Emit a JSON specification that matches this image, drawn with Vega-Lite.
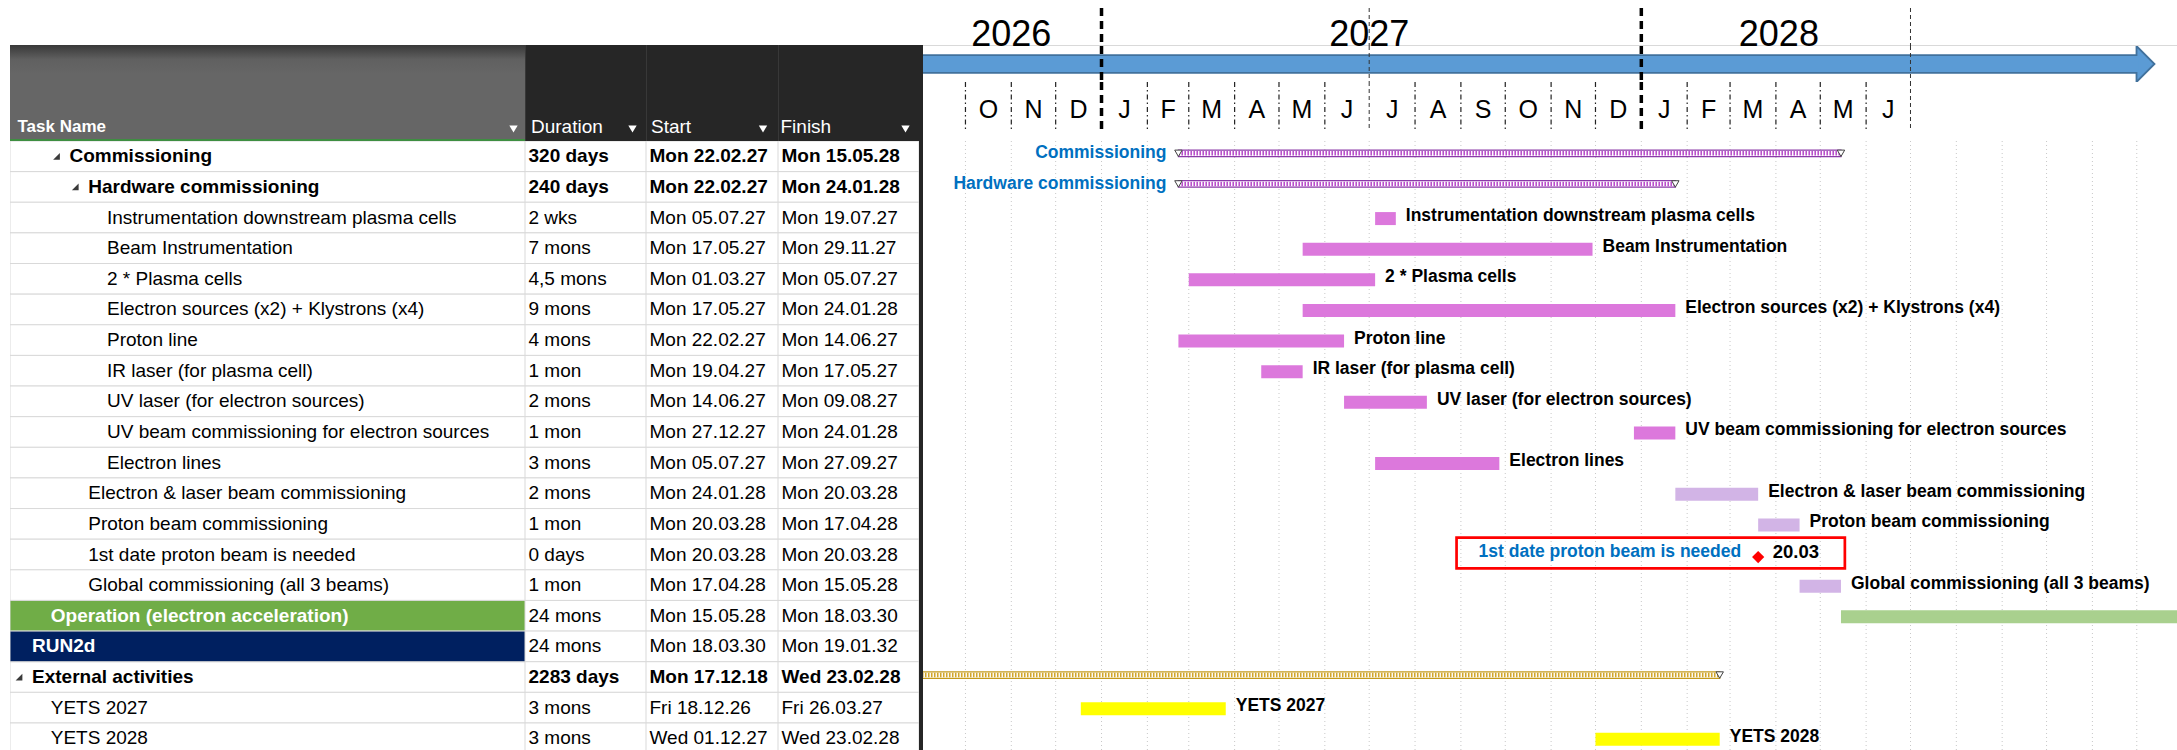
{
"$schema":"https://vega.github.io/schema/vega-lite/v6.json",
"padding":{"left":10,"top":0,"right":0,"bottom":0},
"background":"#ffffff",
"spacing":0,
"config":{"view":{"stroke":null},"font":"Liberation Sans","concat":{"spacing":0}},
"datasets":{
"tasks":[
{"id":1,"name":"Commissioning","level":2,"kind":"summary","duration":"320 days","start":"2027-02-22T00:00:00","finish":"2028-05-15T00:00:00"},
{"id":2,"name":"Hardware commissioning","level":3,"kind":"summary","duration":"240 days","start":"2027-02-22T00:00:00","finish":"2028-01-24T00:00:00"},
{"id":3,"name":"Instrumentation downstream plasma cells","level":4,"kind":"task","duration":"2 wks","start":"2027-07-05T00:00:00","finish":"2027-07-19T00:00:00"},
{"id":4,"name":"Beam Instrumentation","level":4,"kind":"task","duration":"7 mons","start":"2027-05-17T00:00:00","finish":"2027-11-29T00:00:00"},
{"id":5,"name":"2 * Plasma cells","level":4,"kind":"task","duration":"4,5 mons","start":"2027-03-01T00:00:00","finish":"2027-07-05T00:00:00"},
{"id":6,"name":"Electron sources (x2) + Klystrons (x4)","level":4,"kind":"task","duration":"9 mons","start":"2027-05-17T00:00:00","finish":"2028-01-24T00:00:00"},
{"id":7,"name":"Proton line","level":4,"kind":"task","duration":"4 mons","start":"2027-02-22T00:00:00","finish":"2027-06-14T00:00:00"},
{"id":8,"name":"IR laser (for plasma cell)","level":4,"kind":"task","duration":"1 mon","start":"2027-04-19T00:00:00","finish":"2027-05-17T00:00:00"},
{"id":9,"name":"UV laser (for electron sources)","level":4,"kind":"task","duration":"2 mons","start":"2027-06-14T00:00:00","finish":"2027-08-09T00:00:00"},
{"id":10,"name":"UV beam commissioning for electron sources","level":4,"kind":"task","duration":"1 mon","start":"2027-12-27T00:00:00","finish":"2028-01-24T00:00:00"},
{"id":11,"name":"Electron lines","level":4,"kind":"task","duration":"3 mons","start":"2027-07-05T00:00:00","finish":"2027-09-27T00:00:00"},
{"id":12,"name":"Electron & laser beam commissioning","level":3,"kind":"beam","duration":"2 mons","start":"2028-01-24T00:00:00","finish":"2028-03-20T00:00:00"},
{"id":13,"name":"Proton beam commissioning","level":3,"kind":"beam","duration":"1 mon","start":"2028-03-20T00:00:00","finish":"2028-04-17T00:00:00"},
{"id":14,"name":"1st date proton beam is needed","level":3,"kind":"milestone","duration":"0 days","start":"2028-03-20T00:00:00","finish":"2028-03-20T00:00:00"},
{"id":15,"name":"Global commissioning (all 3 beams)","level":3,"kind":"beam","duration":"1 mon","start":"2028-04-17T00:00:00","finish":"2028-05-15T00:00:00"},
{"id":16,"name":"Operation (electron acceleration)","level":1,"kind":"operation","duration":"24 mons","start":"2028-05-15T00:00:00","finish":"2030-03-18T00:00:00"},
{"id":17,"name":"RUN2d","level":0,"kind":"run","duration":"24 mons","start":"2030-03-18T00:00:00","finish":"2032-01-19T00:00:00"},
{"id":18,"name":"External activities","level":0,"kind":"external","duration":"2283 days","start":"2018-12-17T00:00:00","finish":"2028-02-23T00:00:00"},
{"id":19,"name":"YETS 2027","level":1,"kind":"yets","duration":"3 mons","start":"2026-12-18T00:00:00","finish":"2027-03-26T00:00:00"},
{"id":20,"name":"YETS 2028","level":1,"kind":"yets","duration":"3 mons","start":"2027-12-01T00:00:00","finish":"2028-02-23T00:00:00"}
],
"months":[
{"m":"2026-10-01T00:00:00","letter":"O"},{"m":"2026-11-01T00:00:00","letter":"N"},{"m":"2026-12-01T00:00:00","letter":"D"},
{"m":"2027-01-01T00:00:00","letter":"J"},{"m":"2027-02-01T00:00:00","letter":"F"},{"m":"2027-03-01T00:00:00","letter":"M"},
{"m":"2027-04-01T00:00:00","letter":"A"},{"m":"2027-05-01T00:00:00","letter":"M"},{"m":"2027-06-01T00:00:00","letter":"J"},
{"m":"2027-07-01T00:00:00","letter":"J"},{"m":"2027-08-01T00:00:00","letter":"A"},{"m":"2027-09-01T00:00:00","letter":"S"},
{"m":"2027-10-01T00:00:00","letter":"O"},{"m":"2027-11-01T00:00:00","letter":"N"},{"m":"2027-12-01T00:00:00","letter":"D"},
{"m":"2028-01-01T00:00:00","letter":"J"},{"m":"2028-02-01T00:00:00","letter":"F"},{"m":"2028-03-01T00:00:00","letter":"M"},
{"m":"2028-04-01T00:00:00","letter":"A"},{"m":"2028-05-01T00:00:00","letter":"M"},{"m":"2028-06-01T00:00:00","letter":"J"},
{"m":"2028-07-01T00:00:00","letter":"J"},{"m":"2028-08-01T00:00:00","letter":"A"},{"m":"2028-09-01T00:00:00","letter":"S"},
{"m":"2028-10-01T00:00:00","letter":"O"},{"m":"2028-11-01T00:00:00","letter":"N"},{"m":"2028-12-01T00:00:00","letter":"D"}
],
"years":[{"year":"2026","at":"2026-11-01T00:00:00"},{"year":"2027","at":"2027-07-01T00:00:00"},{"year":"2028","at":"2028-04-03T00:00:00"}],
"arrow":[{"from":"2026-08-01T00:00:00","base":"2028-12-01T00:00:00","tip":"2028-12-13T00:00:00"}]
},
"hconcat":[
{"spacing":0,"vconcat":[
 {"width":913,"height":45,"data":{"values":[{"t":""}]},"mark":{"type":"text","clip":true},"encoding":{"text":{"field":"t"}}},
 {"spacing":0,"bounds":"flush","hconcat":[
  {"width":515,"height":96,"view":{"stroke":null,"fill":{"gradient":"linear","x1":0,"y1":0,"x2":0,"y2":1,"stops":[{"offset":0,"color":"#383838"},{"offset":0.15,"color":"#606060"},{"offset":0.3,"color":"#666666"},{"offset":0.975,"color":"#666666"},{"offset":0.976,"color":"#3E8E41"},{"offset":1,"color":"#3E8E41"}]}},
   "data":{"values":[{"label":"Task Name"}]},
   "layer":[
    {"mark":{"type":"text","align":"left","baseline":"middle","dx":-250,"dy":33.7,"fontSize":17,"fontWeight":"bold","color":"#ffffff","clip":true},"encoding":{"text":{"field":"label"}}},
    {"mark":{"type":"point","shape":"triangle-down","size":70,"filled":true,"color":"#ffffff","opacity":1,"xOffset":246,"yOffset":36,"clip":true},"encoding":{}}
   ]},
  {"width":121,"height":96,"view":{"fill":"#262626","stroke":null},
   "data":{"values":[{"label":"Duration"}]},
   "layer":[
    {"mark":{"type":"rule","color":"#4a4a4a","strokeWidth":1,"clip":true},"encoding":{"x":{"datum":0,"type":"quantitative","scale":{"domain":[0,1]},"axis":null}}},
    {"mark":{"type":"text","align":"left","baseline":"middle","dx":-54.5,"dy":33.7,"fontSize":19,"color":"#ffffff","clip":true},"encoding":{"text":{"field":"label"}}},
    {"mark":{"type":"point","shape":"triangle-down","size":70,"filled":true,"color":"#ffffff","opacity":1,"xOffset":47,"yOffset":36,"clip":true},"encoding":{}}
   ]},
  {"width":132,"height":96,"view":{"fill":"#262626","stroke":null},
   "data":{"values":[{"label":"Start"}]},
   "layer":[
    {"mark":{"type":"rule","color":"#4a4a4a","strokeWidth":1,"clip":true},"encoding":{"x":{"datum":0,"type":"quantitative","scale":{"domain":[0,1]},"axis":null}}},
    {"mark":{"type":"text","align":"left","baseline":"middle","dx":-61,"dy":33.7,"fontSize":19,"color":"#ffffff","clip":true},"encoding":{"text":{"field":"label"}}},
    {"mark":{"type":"point","shape":"triangle-down","size":70,"filled":true,"color":"#ffffff","opacity":1,"xOffset":51,"yOffset":36,"clip":true},"encoding":{}}
   ]},
  {"width":141,"height":96,"view":{"fill":"#262626","stroke":null},
   "data":{"values":[{"label":"Finish"}]},
   "layer":[
    {"mark":{"type":"rule","color":"#4a4a4a","strokeWidth":1,"clip":true},"encoding":{"x":{"datum":0,"type":"quantitative","scale":{"domain":[0,1]},"axis":null}}},
    {"mark":{"type":"text","align":"left","baseline":"middle","dx":-68,"dy":33.7,"fontSize":19,"color":"#ffffff","clip":true},"encoding":{"text":{"field":"label"}}},
    {"mark":{"type":"point","shape":"triangle-down","size":70,"filled":true,"color":"#ffffff","opacity":1,"xOffset":57,"yOffset":36,"clip":true},"encoding":{}}
   ]},
  {"width":4,"height":96,"view":{"fill":"#262626","stroke":null},"data":{"values":[{"t":""}]},"mark":{"type":"text","clip":true},"encoding":{"text":{"field":"t"}}}
 ]},
 {"spacing":0,"bounds":"flush","hconcat":[
  {"width":515,"height":609,"data":{"name":"tasks"},
   "layer":[
    {"mark":{"type":"rect","fill":"#ffffff","stroke":"#d9d9d9","strokeWidth":1,"clip":true},
     "encoding":{"y":{"field":"id","type":"ordinal","scale":{"domain":[1,2,3,4,5,6,7,8,9,10,11,12,13,14,15,16,17,18,19,20],"range":[0,612.6],"paddingInner":0,"paddingOuter":0},"axis":null}}},
    {"transform":[{"filter":"datum.kind=='operation'"}],"mark":{"type":"rect","fill":"#70AD47","stroke":"#d9d9d9","strokeWidth":1,"clip":true},
     "encoding":{"y":{"field":"id","type":"ordinal","scale":{"domain":[1,2,3,4,5,6,7,8,9,10,11,12,13,14,15,16,17,18,19,20],"range":[0,612.6],"paddingInner":0,"paddingOuter":0},"axis":null}}},
    {"transform":[{"filter":"datum.kind=='run'"}],"mark":{"type":"rect","fill":"#002060","stroke":"#d9d9d9","strokeWidth":1,"clip":true},
     "encoding":{"y":{"field":"id","type":"ordinal","scale":{"domain":[1,2,3,4,5,6,7,8,9,10,11,12,13,14,15,16,17,18,19,20],"range":[0,612.6],"paddingInner":0,"paddingOuter":0},"axis":null}}},
    {"transform":[{"filter":"datum.kind=='summary'||datum.kind=='external'"}],"mark":{"type":"point","shape":"M1,-1L1,1L-1,1Z","size":45,"filled":true,"color":"#3a3a3a","opacity":1,"xOffset":-13,"clip":true},
     "encoding":{"x":{"field":"level","type":"quantitative","scale":{"domain":[0,4],"range":[22,97]},"axis":null},
      "y":{"field":"id","type":"ordinal","scale":{"domain":[1,2,3,4,5,6,7,8,9,10,11,12,13,14,15,16,17,18,19,20],"range":[0,612.6],"paddingInner":0,"paddingOuter":0},"axis":null}}},
    {"transform":[{"filter":"indexof(['task','beam','milestone','yets'],datum.kind)>=0"}],"mark":{"type":"text","align":"left","baseline":"middle","fontSize":19,"color":"#000000","clip":true},
     "encoding":{"x":{"field":"level","type":"quantitative","scale":{"domain":[0,4],"range":[22,97]},"axis":null},
      "y":{"field":"id","type":"ordinal","scale":{"domain":[1,2,3,4,5,6,7,8,9,10,11,12,13,14,15,16,17,18,19,20],"range":[0,612.6],"paddingInner":0,"paddingOuter":0},"axis":null},
      "text":{"field":"name"}}},
    {"transform":[{"filter":"datum.kind=='summary'||datum.kind=='external'"}],"mark":{"type":"text","align":"left","baseline":"middle","fontSize":19,"fontWeight":"bold","color":"#000000","clip":true},
     "encoding":{"x":{"field":"level","type":"quantitative","scale":{"domain":[0,4],"range":[22,97]},"axis":null},
      "y":{"field":"id","type":"ordinal","scale":{"domain":[1,2,3,4,5,6,7,8,9,10,11,12,13,14,15,16,17,18,19,20],"range":[0,612.6],"paddingInner":0,"paddingOuter":0},"axis":null},
      "text":{"field":"name"}}},
    {"transform":[{"filter":"datum.kind=='operation'||datum.kind=='run'"}],"mark":{"type":"text","align":"left","baseline":"middle","fontSize":19,"fontWeight":"bold","color":"#ffffff","clip":true},
     "encoding":{"x":{"field":"level","type":"quantitative","scale":{"domain":[0,4],"range":[22,97]},"axis":null},
      "y":{"field":"id","type":"ordinal","scale":{"domain":[1,2,3,4,5,6,7,8,9,10,11,12,13,14,15,16,17,18,19,20],"range":[0,612.6],"paddingInner":0,"paddingOuter":0},"axis":null},
      "text":{"field":"name"}}}
   ]},
  {"width":121,"height":609,"data":{"name":"tasks"},
   "layer":[
    {"mark":{"type":"rect","fill":"#ffffff","stroke":"#d9d9d9","strokeWidth":1,"clip":true},
     "encoding":{"y":{"field":"id","type":"ordinal","scale":{"domain":[1,2,3,4,5,6,7,8,9,10,11,12,13,14,15,16,17,18,19,20],"range":[0,612.6],"paddingInner":0,"paddingOuter":0},"axis":null}}},
    {"transform":[{"filter":"datum.kind!='summary'&&datum.kind!='external'"}],"mark":{"type":"text","align":"left","baseline":"middle","fontSize":19,"dx":-57,"color":"#000000","clip":true},
     "encoding":{"y":{"field":"id","type":"ordinal","scale":{"domain":[1,2,3,4,5,6,7,8,9,10,11,12,13,14,15,16,17,18,19,20],"range":[0,612.6],"paddingInner":0,"paddingOuter":0},"axis":null},"text":{"field":"duration"}}},
    {"transform":[{"filter":"datum.kind=='summary'||datum.kind=='external'"}],"mark":{"type":"text","align":"left","baseline":"middle","fontSize":19,"fontWeight":"bold","dx":-57,"color":"#000000","clip":true},
     "encoding":{"y":{"field":"id","type":"ordinal","scale":{"domain":[1,2,3,4,5,6,7,8,9,10,11,12,13,14,15,16,17,18,19,20],"range":[0,612.6],"paddingInner":0,"paddingOuter":0},"axis":null},"text":{"field":"duration"}}}
   ]},
  {"width":132,"height":609,"data":{"name":"tasks"},
   "layer":[
    {"mark":{"type":"rect","fill":"#ffffff","stroke":"#d9d9d9","strokeWidth":1,"clip":true},
     "encoding":{"y":{"field":"id","type":"ordinal","scale":{"domain":[1,2,3,4,5,6,7,8,9,10,11,12,13,14,15,16,17,18,19,20],"range":[0,612.6],"paddingInner":0,"paddingOuter":0},"axis":null}}},
    {"transform":[{"filter":"datum.kind!='summary'&&datum.kind!='external'"}],"mark":{"type":"text","align":"left","baseline":"middle","fontSize":19,"dx":-62.5,"color":"#000000","clip":true},
     "encoding":{"y":{"field":"id","type":"ordinal","scale":{"domain":[1,2,3,4,5,6,7,8,9,10,11,12,13,14,15,16,17,18,19,20],"range":[0,612.6],"paddingInner":0,"paddingOuter":0},"axis":null},"text":{"field":"start","type":"temporal","format":"%a %d.%m.%y"}}},
    {"transform":[{"filter":"datum.kind=='summary'||datum.kind=='external'"}],"mark":{"type":"text","align":"left","baseline":"middle","fontSize":19,"fontWeight":"bold","dx":-62.5,"color":"#000000","clip":true},
     "encoding":{"y":{"field":"id","type":"ordinal","scale":{"domain":[1,2,3,4,5,6,7,8,9,10,11,12,13,14,15,16,17,18,19,20],"range":[0,612.6],"paddingInner":0,"paddingOuter":0},"axis":null},"text":{"field":"start","type":"temporal","format":"%a %d.%m.%y"}}}
   ]},
  {"width":141,"height":609,"data":{"name":"tasks"},
   "layer":[
    {"mark":{"type":"rect","fill":"#ffffff","stroke":"#d9d9d9","strokeWidth":1,"clip":true},
     "encoding":{"y":{"field":"id","type":"ordinal","scale":{"domain":[1,2,3,4,5,6,7,8,9,10,11,12,13,14,15,16,17,18,19,20],"range":[0,612.6],"paddingInner":0,"paddingOuter":0},"axis":null}}},
    {"transform":[{"filter":"datum.kind!='summary'&&datum.kind!='external'"}],"mark":{"type":"text","align":"left","baseline":"middle","fontSize":19,"dx":-67,"color":"#000000","clip":true},
     "encoding":{"y":{"field":"id","type":"ordinal","scale":{"domain":[1,2,3,4,5,6,7,8,9,10,11,12,13,14,15,16,17,18,19,20],"range":[0,612.6],"paddingInner":0,"paddingOuter":0},"axis":null},"text":{"field":"finish","type":"temporal","format":"%a %d.%m.%y"}}},
    {"transform":[{"filter":"datum.kind=='summary'||datum.kind=='external'"}],"mark":{"type":"text","align":"left","baseline":"middle","fontSize":19,"fontWeight":"bold","dx":-67,"color":"#000000","clip":true},
     "encoding":{"y":{"field":"id","type":"ordinal","scale":{"domain":[1,2,3,4,5,6,7,8,9,10,11,12,13,14,15,16,17,18,19,20],"range":[0,612.6],"paddingInner":0,"paddingOuter":0},"axis":null},"text":{"field":"finish","type":"temporal","format":"%a %d.%m.%y"}}}
   ]},
  {"width":4,"height":609,"view":{"fill":"#262626","stroke":null},"data":{"values":[{"t":""}]},"mark":{"type":"text","clip":true},"encoding":{"text":{"field":"t"}}}
 ]}
]},
{"spacing":0,"bounds":"flush","vconcat":[
 {"width":1254,"height":46,"view":{"stroke":null,"fill":{"gradient":"linear","x1":0,"y1":0,"x2":0,"y2":1,"stops":[{"offset":0,"color":"#ffffff"},{"offset":0.975,"color":"#ffffff"},{"offset":0.976,"color":"#d9d9d9"},{"offset":1,"color":"#d9d9d9"}]}},
  "layer":[
   {"data":{"name":"years"},"mark":{"type":"text","align":"center","baseline":"alphabetic","dy":23,"fontSize":36,"color":"#000000","clip":true},
    "encoding":{"x":{"field":"at","type":"temporal","scale":{"domain":[{"year":2026,"month":9,"date":2,"hours":7},{"year":2028,"month":12,"date":28,"hours":5}]},"axis":null},"text":{"field":"year"}}},
   {"data":{"name":"months"},"transform":[{"filter":"month(datum.m)==0"}],"mark":{"type":"rule","color":"#000000","strokeWidth":3.5,"strokeDash":[8,5],"yOffset":8,"clip":true},
    "encoding":{"x":{"field":"m","type":"temporal","scale":{"domain":[{"year":2026,"month":9,"date":2,"hours":7},{"year":2028,"month":12,"date":28,"hours":5}]},"axis":null}}},
   {"data":{"name":"months"},"transform":[{"filter":"month(datum.m)==6"}],"mark":{"type":"rule","color":"#333333","strokeWidth":1,"strokeDash":[4,3],"yOffset":8,"clip":true},
    "encoding":{"x":{"field":"m","type":"temporal","scale":{"domain":[{"year":2026,"month":9,"date":2,"hours":7},{"year":2028,"month":12,"date":28,"hours":5}]},"axis":null}}}
  ]},
 {"width":1254,"height":36,
  "layer":[
   {"data":{"name":"arrow"},"mark":{"type":"rule","color":"#41719C","strokeWidth":19.5,"strokeCap":"butt","clip":true},
    "encoding":{"x":{"field":"from","type":"temporal","scale":{"domain":[{"year":2026,"month":9,"date":2,"hours":7},{"year":2028,"month":12,"date":28,"hours":5}]},"axis":null},"x2":{"field":"base"}}},
   {"data":{"name":"arrow"},"mark":{"type":"point","shape":"M-1,-1L0,0L-1,1Z","size":1296,"filled":true,"fill":"#5B9BD5","stroke":"#41719C","strokeWidth":1.8,"opacity":1,"clip":true},
    "encoding":{"x":{"field":"tip","type":"temporal","scale":{"domain":[{"year":2026,"month":9,"date":2,"hours":7},{"year":2028,"month":12,"date":28,"hours":5}]},"axis":null}}},
   {"data":{"name":"arrow"},"mark":{"type":"rule","color":"#5B9BD5","strokeWidth":16,"strokeCap":"butt","clip":true,"x2Offset":2},
    "encoding":{"x":{"field":"from","type":"temporal","scale":{"domain":[{"year":2026,"month":9,"date":2,"hours":7},{"year":2028,"month":12,"date":28,"hours":5}]},"axis":null},"x2":{"field":"base"}}},
   {"data":{"name":"months"},"transform":[{"filter":"month(datum.m)==0"}],"mark":{"type":"rule","color":"#000000","strokeWidth":3.5,"strokeDash":[8,5],"clip":true},
    "encoding":{"x":{"field":"m","type":"temporal","scale":{"domain":[{"year":2026,"month":9,"date":2,"hours":7},{"year":2028,"month":12,"date":28,"hours":5}]},"axis":null}}},
   {"data":{"name":"months"},"transform":[{"filter":"month(datum.m)==6"}],"mark":{"type":"rule","color":"#333333","strokeWidth":1,"strokeDash":[4,3],"clip":true},
    "encoding":{"x":{"field":"m","type":"temporal","scale":{"domain":[{"year":2026,"month":9,"date":2,"hours":7},{"year":2028,"month":12,"date":28,"hours":5}]},"axis":null}}}
  ]},
 {"width":1254,"height":49,
  "layer":[
   {"data":{"name":"months"},"transform":[{"filter":"month(datum.m)!=0 && month(datum.m)!=6 && time(datum.m) < time(datetime(2028,6,1))"}],"mark":{"type":"rule","color":"#222222","strokeWidth":1.2,"strokeDash":[5,3,1.5,3],"clip":true},
    "encoding":{"x":{"field":"m","type":"temporal","scale":{"domain":[{"year":2026,"month":9,"date":2,"hours":7},{"year":2028,"month":12,"date":28,"hours":5}]},"axis":null}}},
   {"data":{"name":"months"},"transform":[{"filter":"month(datum.m)==0"}],"mark":{"type":"rule","color":"#000000","strokeWidth":3.5,"strokeDash":[8,5],"clip":true},
    "encoding":{"x":{"field":"m","type":"temporal","scale":{"domain":[{"year":2026,"month":9,"date":2,"hours":7},{"year":2028,"month":12,"date":28,"hours":5}]},"axis":null}}},
   {"data":{"name":"months"},"transform":[{"filter":"month(datum.m)==6"}],"mark":{"type":"rule","color":"#333333","strokeWidth":1,"strokeDash":[4,3],"clip":true},
    "encoding":{"x":{"field":"m","type":"temporal","scale":{"domain":[{"year":2026,"month":9,"date":2,"hours":7},{"year":2028,"month":12,"date":28,"hours":5}]},"axis":null}}},
   {"data":{"name":"months"},"transform":[{"filter":"time(datum.m) < time(datetime(2028,6,1))"}],"mark":{"type":"text","align":"center","baseline":"alphabetic","dy":11.5,"fontSize":25,"color":"#000000","clip":true},
    "encoding":{"x":{"field":"m","type":"temporal","timeUnit":"yearmonth","bandPosition":0.5,"scale":{"domain":[{"year":2026,"month":9,"date":2,"hours":7},{"year":2028,"month":12,"date":28,"hours":5}]},"axis":null},"text":{"field":"letter"}}}
  ]},
 {"width":1254,"height":10,"data":{"values":[{"t":""}]},"mark":{"type":"text","clip":true},"encoding":{"text":{"field":"t"}}},
 {"width":1254,"height":609,"data":{"name":"tasks"},
  "layer":[
   {"data":{"name":"months"},"mark":{"type":"rule","color":"#c8c8c8","strokeWidth":1,"strokeDash":[1,3],"clip":true},
    "encoding":{"x":{"field":"m","type":"temporal","scale":{"domain":[{"year":2026,"month":9,"date":2,"hours":7},{"year":2028,"month":12,"date":28,"hours":5}]},"axis":null}}},
   {"transform":[{"filter":"datum.kind=='summary'"}],"mark":{"type":"bar","height":6.5,"yOffset":-3,"fill":"#ffffff","stroke":"#8B3BA8","strokeWidth":1.2,"clip":true},
    "encoding":{"x":{"field":"start","type":"temporal","scale":{"domain":[{"year":2026,"month":9,"date":2,"hours":7},{"year":2028,"month":12,"date":28,"hours":5}]},"axis":null},"x2":{"field":"finish"},
     "y":{"field":"id","type":"ordinal","scale":{"domain":[1,2,3,4,5,6,7,8,9,10,11,12,13,14,15,16,17,18,19,20],"range":[0,612.6],"paddingInner":0,"paddingOuter":0},"axis":null}}},
   {"transform":[{"filter":"datum.kind=='summary'"}],"mark":{"type":"rule","strokeWidth":4.5,"strokeDash":[1.6,1.4],"strokeCap":"butt","color":"#B94FCB","yOffset":-3,"clip":true},
    "encoding":{"x":{"field":"start","type":"temporal","scale":{"domain":[{"year":2026,"month":9,"date":2,"hours":7},{"year":2028,"month":12,"date":28,"hours":5}]},"axis":null},"x2":{"field":"finish"},
     "y":{"field":"id","type":"ordinal","scale":{"domain":[1,2,3,4,5,6,7,8,9,10,11,12,13,14,15,16,17,18,19,20],"range":[0,612.6],"paddingInner":0,"paddingOuter":0},"axis":null}}},
   {"transform":[{"filter":"datum.kind=='summary'"}],"mark":{"type":"point","shape":"triangle-down","size":55,"fill":"#ffffff","stroke":"#404040","strokeWidth":1,"opacity":1,"filled":false,"yOffset":-3,"clip":true},
    "encoding":{"x":{"field":"start","type":"temporal","scale":{"domain":[{"year":2026,"month":9,"date":2,"hours":7},{"year":2028,"month":12,"date":28,"hours":5}]},"axis":null},
     "y":{"field":"id","type":"ordinal","scale":{"domain":[1,2,3,4,5,6,7,8,9,10,11,12,13,14,15,16,17,18,19,20],"range":[0,612.6],"paddingInner":0,"paddingOuter":0},"axis":null}}},
   {"transform":[{"filter":"datum.kind=='summary'"}],"mark":{"type":"point","shape":"triangle-down","size":55,"fill":"#ffffff","stroke":"#404040","strokeWidth":1,"opacity":1,"filled":false,"yOffset":-3,"clip":true},
    "encoding":{"x":{"field":"finish","type":"temporal","scale":{"domain":[{"year":2026,"month":9,"date":2,"hours":7},{"year":2028,"month":12,"date":28,"hours":5}]},"axis":null},
     "y":{"field":"id","type":"ordinal","scale":{"domain":[1,2,3,4,5,6,7,8,9,10,11,12,13,14,15,16,17,18,19,20],"range":[0,612.6],"paddingInner":0,"paddingOuter":0},"axis":null}}},
   {"transform":[{"filter":"datum.kind=='external'"}],"mark":{"type":"bar","height":6.5,"yOffset":-2,"fill":"#ffffff","stroke":"#C39A1C","strokeWidth":1.2,"clip":true},
    "encoding":{"x":{"field":"start","type":"temporal","scale":{"domain":[{"year":2026,"month":9,"date":2,"hours":7},{"year":2028,"month":12,"date":28,"hours":5}]},"axis":null},"x2":{"field":"finish"},
     "y":{"field":"id","type":"ordinal","scale":{"domain":[1,2,3,4,5,6,7,8,9,10,11,12,13,14,15,16,17,18,19,20],"range":[0,612.6],"paddingInner":0,"paddingOuter":0},"axis":null}}},
   {"transform":[{"filter":"datum.kind=='external'"}],"mark":{"type":"rule","strokeWidth":4.5,"strokeDash":[1.6,1.4],"strokeCap":"butt","color":"#D2A62A","yOffset":-2,"clip":true},
    "encoding":{"x":{"field":"start","type":"temporal","scale":{"domain":[{"year":2026,"month":9,"date":2,"hours":7},{"year":2028,"month":12,"date":28,"hours":5}]},"axis":null},"x2":{"field":"finish"},
     "y":{"field":"id","type":"ordinal","scale":{"domain":[1,2,3,4,5,6,7,8,9,10,11,12,13,14,15,16,17,18,19,20],"range":[0,612.6],"paddingInner":0,"paddingOuter":0},"axis":null}}},
   {"transform":[{"filter":"datum.kind=='external'"}],"mark":{"type":"point","shape":"triangle-down","size":55,"fill":"#ffffff","stroke":"#404040","strokeWidth":1,"opacity":1,"filled":false,"yOffset":-2,"clip":true},
    "encoding":{"x":{"field":"finish","type":"temporal","scale":{"domain":[{"year":2026,"month":9,"date":2,"hours":7},{"year":2028,"month":12,"date":28,"hours":5}]},"axis":null},
     "y":{"field":"id","type":"ordinal","scale":{"domain":[1,2,3,4,5,6,7,8,9,10,11,12,13,14,15,16,17,18,19,20],"range":[0,612.6],"paddingInner":0,"paddingOuter":0},"axis":null}}},
   {"transform":[{"filter":"datum.kind=='task'"}],"mark":{"type":"bar","height":13,"yOffset":1,"color":"#DC78DC","clip":true},
    "encoding":{"x":{"field":"start","type":"temporal","scale":{"domain":[{"year":2026,"month":9,"date":2,"hours":7},{"year":2028,"month":12,"date":28,"hours":5}]},"axis":null},"x2":{"field":"finish"},
     "y":{"field":"id","type":"ordinal","scale":{"domain":[1,2,3,4,5,6,7,8,9,10,11,12,13,14,15,16,17,18,19,20],"range":[0,612.6],"paddingInner":0,"paddingOuter":0},"axis":null}}},
   {"transform":[{"filter":"datum.kind=='beam'"}],"mark":{"type":"bar","height":13,"yOffset":1,"color":"#D2B4E6","clip":true},
    "encoding":{"x":{"field":"start","type":"temporal","scale":{"domain":[{"year":2026,"month":9,"date":2,"hours":7},{"year":2028,"month":12,"date":28,"hours":5}]},"axis":null},"x2":{"field":"finish"},
     "y":{"field":"id","type":"ordinal","scale":{"domain":[1,2,3,4,5,6,7,8,9,10,11,12,13,14,15,16,17,18,19,20],"range":[0,612.6],"paddingInner":0,"paddingOuter":0},"axis":null}}},
   {"transform":[{"filter":"datum.kind=='operation'"}],"mark":{"type":"bar","height":13,"yOffset":1,"color":"#A9D08E","clip":true},
    "encoding":{"x":{"field":"start","type":"temporal","scale":{"domain":[{"year":2026,"month":9,"date":2,"hours":7},{"year":2028,"month":12,"date":28,"hours":5}]},"axis":null},"x2":{"field":"finish"},
     "y":{"field":"id","type":"ordinal","scale":{"domain":[1,2,3,4,5,6,7,8,9,10,11,12,13,14,15,16,17,18,19,20],"range":[0,612.6],"paddingInner":0,"paddingOuter":0},"axis":null}}},
   {"transform":[{"filter":"datum.kind=='yets'"}],"mark":{"type":"bar","height":13,"yOffset":1,"color":"#FFFF00","clip":true},
    "encoding":{"x":{"field":"start","type":"temporal","scale":{"domain":[{"year":2026,"month":9,"date":2,"hours":7},{"year":2028,"month":12,"date":28,"hours":5}]},"axis":null},"x2":{"field":"finish"},
     "y":{"field":"id","type":"ordinal","scale":{"domain":[1,2,3,4,5,6,7,8,9,10,11,12,13,14,15,16,17,18,19,20],"range":[0,612.6],"paddingInner":0,"paddingOuter":0},"axis":null}}},
   {"transform":[{"filter":"indexof(['task','beam','yets'],datum.kind)>=0"}],"mark":{"type":"text","align":"left","baseline":"middle","dx":10,"dy":-1.5,"fontSize":17.5,"fontWeight":"bold","color":"#000000","clip":true},
    "encoding":{"x":{"field":"finish","type":"temporal","scale":{"domain":[{"year":2026,"month":9,"date":2,"hours":7},{"year":2028,"month":12,"date":28,"hours":5}]},"axis":null},
     "y":{"field":"id","type":"ordinal","scale":{"domain":[1,2,3,4,5,6,7,8,9,10,11,12,13,14,15,16,17,18,19,20],"range":[0,612.6],"paddingInner":0,"paddingOuter":0},"axis":null},"text":{"field":"name"}}},
   {"transform":[{"filter":"datum.kind=='summary'"}],"mark":{"type":"text","align":"right","baseline":"middle","dx":-12,"dy":-3,"fontSize":17.5,"fontWeight":"bold","color":"#0070C0","clip":true},
    "encoding":{"x":{"field":"start","type":"temporal","scale":{"domain":[{"year":2026,"month":9,"date":2,"hours":7},{"year":2028,"month":12,"date":28,"hours":5}]},"axis":null},
     "y":{"field":"id","type":"ordinal","scale":{"domain":[1,2,3,4,5,6,7,8,9,10,11,12,13,14,15,16,17,18,19,20],"range":[0,612.6],"paddingInner":0,"paddingOuter":0},"axis":null},"text":{"field":"name"}}},
   {"transform":[{"filter":"datum.kind=='milestone'"}],"mark":{"type":"rect","fill":"#ffffff","fillOpacity":0,"stroke":"#FF0000","strokeWidth":2.7,"xOffset":-301.6,"x2Offset":86.7,"yOffset":-1.5,"clip":true},
    "encoding":{"x":{"field":"start","type":"temporal","scale":{"domain":[{"year":2026,"month":9,"date":2,"hours":7},{"year":2028,"month":12,"date":28,"hours":5}]},"axis":null},"x2":{"field":"finish"},
     "y":{"field":"id","type":"ordinal","scale":{"domain":[1,2,3,4,5,6,7,8,9,10,11,12,13,14,15,16,17,18,19,20],"range":[0,612.6],"paddingInner":0,"paddingOuter":0},"axis":null}}},
   {"transform":[{"filter":"datum.kind=='milestone'"}],"mark":{"type":"text","align":"right","baseline":"middle","dx":-17,"dy":-2.5,"fontSize":17.5,"fontWeight":"bold","color":"#0070C0","clip":true},
    "encoding":{"x":{"field":"start","type":"temporal","scale":{"domain":[{"year":2026,"month":9,"date":2,"hours":7},{"year":2028,"month":12,"date":28,"hours":5}]},"axis":null},
     "y":{"field":"id","type":"ordinal","scale":{"domain":[1,2,3,4,5,6,7,8,9,10,11,12,13,14,15,16,17,18,19,20],"range":[0,612.6],"paddingInner":0,"paddingOuter":0},"axis":null},"text":{"field":"name"}}},
   {"transform":[{"filter":"datum.kind=='milestone'"}],"mark":{"type":"point","shape":"diamond","size":150,"filled":true,"color":"#FF0000","opacity":1,"yOffset":2.5,"clip":true},
    "encoding":{"x":{"field":"start","type":"temporal","scale":{"domain":[{"year":2026,"month":9,"date":2,"hours":7},{"year":2028,"month":12,"date":28,"hours":5}]},"axis":null},
     "y":{"field":"id","type":"ordinal","scale":{"domain":[1,2,3,4,5,6,7,8,9,10,11,12,13,14,15,16,17,18,19,20],"range":[0,612.6],"paddingInner":0,"paddingOuter":0},"axis":null}}},
   {"transform":[{"filter":"datum.kind=='milestone'"}],"mark":{"type":"text","align":"left","baseline":"middle","dx":14.5,"dy":-2.5,"fontSize":18.5,"fontWeight":"bold","color":"#000000","clip":true},
    "encoding":{"x":{"field":"start","type":"temporal","scale":{"domain":[{"year":2026,"month":9,"date":2,"hours":7},{"year":2028,"month":12,"date":28,"hours":5}]},"axis":null},
     "y":{"field":"id","type":"ordinal","scale":{"domain":[1,2,3,4,5,6,7,8,9,10,11,12,13,14,15,16,17,18,19,20],"range":[0,612.6],"paddingInner":0,"paddingOuter":0},"axis":null},"text":{"field":"start","type":"temporal","format":"%d.%m"}}}
  ]}
]}
]
}
